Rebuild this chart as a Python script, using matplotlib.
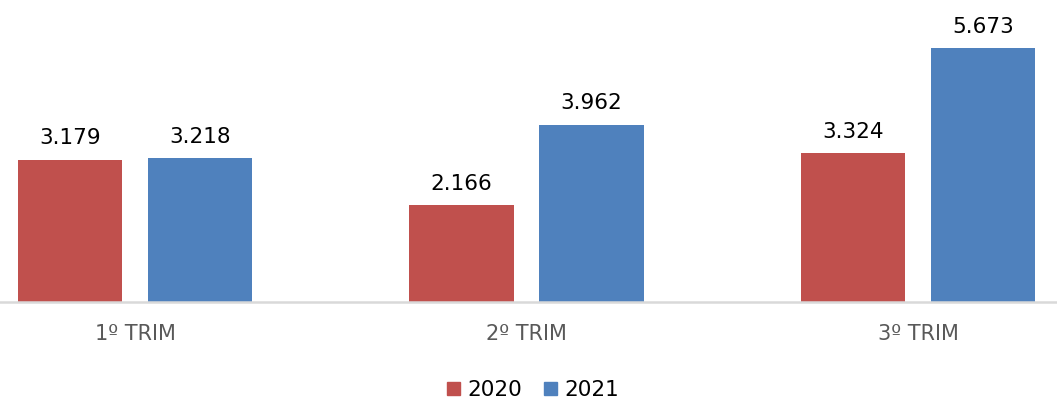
import matplotlib
matplotlib.use("Agg")
import matplotlib.pyplot as plt
import numpy as np
from matplotlib.patches import Patch

categories = ["1º TRIM", "2º TRIM", "3º TRIM"]
vals_2020 = [3.179, 2.166, 3.324]
vals_2021 = [3.218, 3.962, 5.673]
series = ["2020", "2021"]
colors = ["#C0504D", "#4F81BD"]

fig = plt.figure(figsize=(10.57, 4.08), dpi=100)
ax = fig.add_axes([0, 106 / 408, 1, 296 / 408])

x = np.arange(len(categories))
w = 0.268
off = 0.166
b1 = ax.bar(x - off, vals_2020, w, color=colors[0])
b2 = ax.bar(x + off, vals_2021, w, color=colors[1])

for bars, vals in ((b1, vals_2020), (b2, vals_2021)):
    for b, v in zip(bars, vals):
        ax.annotate(f"{v:.3f}", (b.get_x() + b.get_width() / 2, v),
                    xytext=(0, 8), textcoords="offset points",
                    ha="center", va="bottom", fontsize=15.5, color="black")

ax.set_xlim(-135 / 391.5, (1057 - 135) / 391.5)
ax.set_ylim(0, 296 / 44.8)
ax.set_xticks(x)
ax.set_xticklabels(categories, fontsize=15, color="#595959")
ax.tick_params(axis="x", length=0, pad=16)
ax.set_yticks([])
for s in ["top", "right", "left"]:
    ax.spines[s].set_visible(False)
ax.spines["bottom"].set_color("#D9D9D9")
ax.spines["bottom"].set_linewidth(1.8)

handles = [Patch(color=c, label=l) for c, l in zip(colors, series)]
fig.legend(handles=handles, loc="center", bbox_to_anchor=(533 / 1057, 1 - 390 / 408),
           ncol=2, frameon=False, fontsize=15.5, handlelength=0.6, handleheight=0.6,
           handletextpad=0.35, columnspacing=1.0)

fig.savefig("out.png", dpi=100)
